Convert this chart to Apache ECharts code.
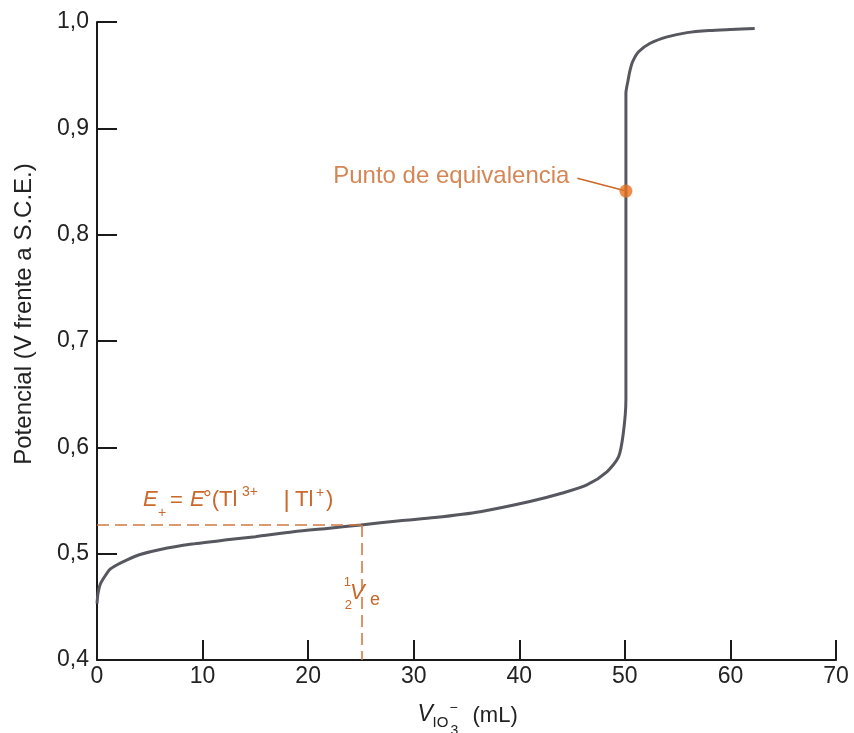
<!DOCTYPE html>
<html><head><meta charset="utf-8">
<script src="https://cdn.jsdelivr.net/npm/echarts@6/dist/echarts.min.js"></script>
<style>html,body{margin:0;padding:0;background:#fff}#c{width:854px;height:733px}</style>
</head><body><div id="c"></div>
<script>
// ---- data ----
const volumeML = [0, 0.1, 0.3, 0.7, 1.2, 2, 2.8, 4, 6, 9, 12.3, 15, 18.6, 22, 25, 28.7, 32, 36.3, 41, 44.1, 46.4, 48.3, 49.4, 49.85, 50.1, 50.1, 50.3, 50.5, 50.75, 51.3, 52.4, 54, 55.9, 58, 60, 62.3];
const potentialV = [0.453, 0.463, 0.471, 0.478, 0.485, 0.490, 0.494, 0.499, 0.504, 0.509, 0.513, 0.516, 0.5207, 0.524, 0.527, 0.531, 0.534, 0.5395, 0.549, 0.557, 0.5646, 0.577, 0.591, 0.613, 0.645, 0.933, 0.945, 0.955, 0.963, 0.972, 0.980, 0.986, 0.990, 0.992, 0.993, 0.994];
const equivalencePoint = [50.1, 0.841];
const leaderStart = [45.5, 0.853];
const halfVe = 25.1;
const ePlus = 0.527;
const xTicks = {min: 0, max: 70, step: 10};
const yTicks = {min: 0.4, max: 1.0, step: 0.1};
const yAxisTitle = 'Potencial (V frente a S.C.E.)';
const eqLabel = 'Punto de equivalencia';

const FONT = '"Liberation Sans", Arial, Helvetica, sans-serif';
const ORANGE = '#c9682a';
const DASH = '#d17a42';
const INK = '#1a1a1a';

const chart = echarts.init(document.getElementById('c'), null, {renderer: 'canvas'});
const option = {
  animation: false,
  backgroundColor: '#fff',
  grid: {left: 97, right: 18, top: 22, bottom: 73, containLabel: false, outerBoundsMode: 'none'},
  xAxis: {
    type: 'value', min: xTicks.min, max: xTicks.max, interval: xTicks.step,
    axisLine: {show: true, lineStyle: {color: INK, width: 2}},
    axisTick: {show: true, inside: true, length: 20, lineStyle: {color: INK, width: 2}},
    axisLabel: {fontSize: 23, color: '#222', margin: 5, fontFamily: FONT},
    splitLine: {show: false}
  },
  yAxis: {
    type: 'value', min: yTicks.min, max: yTicks.max, interval: yTicks.step,
    axisLine: {show: true, lineStyle: {color: INK, width: 2}},
    axisTick: {show: true, inside: true, length: 20, lineStyle: {color: INK, width: 2}},
    axisLabel: {fontSize: 23, color: '#222', margin: 8, fontFamily: FONT,
      formatter: v => v.toFixed(1).replace('.', ',')},
    splitLine: {show: false}
  },
  series: [
    {
      type: 'line', name: 'curve',
      data: volumeML.map((v, i) => [v, potentialV[i]]),
      symbol: 'none', smooth: 0.25,
      lineStyle: {color: '#56575f', width: 3},
      z: 3,
      markLine: {
        silent: true, symbol: 'none', animation: false,
        label: {show: false},
        lineStyle: {color: DASH, type: [12, 6], width: 1.6},
        data: [
          [{coord: [xTicks.min, ePlus]}, {coord: [halfVe, ePlus]}],
          [{coord: [halfVe, ePlus]}, {coord: [halfVe, yTicks.min]}]
        ]
      }
    },
    {
      type: 'scatter', name: 'eq',
      data: [equivalencePoint],
      symbolSize: 13, itemStyle: {color: '#e8701f'}, z: 5,
      label: {show: true, formatter: eqLabel, position: 'left', distance: 50, offset: [0, -15],
        fontSize: 24, color: ORANGE, fontFamily: FONT},
      markLine: {
        silent: true, symbol: 'none', animation: false, label: {show: false},
        lineStyle: {color: ORANGE, type: 'solid', width: 1.5},
        data: [[{coord: leaderStart}, {coord: equivalencePoint}]]
      }
    }
  ]
};
chart.setOption(option);

function t(text, x, y, size, opts) {
  opts = opts || {};
  const font = (opts.italic ? 'italic ' : '') + size + 'px ' + FONT;
  const el = {type: 'text', silent: true, z: 10, style: {
    text: text, x: x, y: y, font: font, fill: opts.color || ORANGE,
    align: opts.align || 'left', verticalAlign: 'middle',
    textAlign: opts.align || 'left', textVerticalAlign: 'middle'
  }};
  return el;
}

const pE = chart.convertToPixel({gridIndex: 0}, [xTicks.min, ePlus]);
const pH = chart.convertToPixel({gridIndex: 0}, [halfVe, yTicks.min]);
const pX = chart.convertToPixel({gridIndex: 0}, [(xTicks.min + xTicks.max) / 2, yTicks.min]);
const pTop = chart.convertToPixel({gridIndex: 0}, [xTicks.min, yTicks.max]);
const ax = pE[0], ay = pE[1];
const g = [
  // y-axis title
  {type: 'text', silent: true, rotation: Math.PI / 2, x: ax - 73, y: (pTop[1] + pX[1]) / 2 - 27,
    style: {text: yAxisTitle, x: 0, y: 0, font: '24px ' + FONT, fill: '#222',
      align: 'center', verticalAlign: 'middle', textAlign: 'center', textVerticalAlign: 'middle'}},
  // E+ = E°(Tl3+ | Tl+)
  t('E', ax + 46, ay - 25, 22, {italic: true}),
  t('+', ax + 61, ay - 12, 14),
  t('=', ax + 79.5, ay - 24, 22, {align: 'center'}),
  t('E', ax + 93, ay - 25, 22, {italic: true}),
  t('°(Tl', ax + 106, ay - 25, 22),
  t('3+', ax + 145, ay - 33, 14),
  t('|', ax + 189.5, ay - 24.5, 24, {align: 'center'}),
  t('Tl', ax + 198, ay - 25, 22),
  t('+', ax + 219, ay - 32, 14),
  t(')', ax + 229, ay - 25, 22),
  // 1/2 Ve
  t('1', pH[0] - 14.5, pH[1] - 78, 13, {align: 'center'}),
  t('2', pH[0] - 13.5, pH[1] - 55, 13, {align: 'center'}),
  t('V', pH[0] - 12, pH[1] - 67, 22, {italic: true}),
  t('e', pH[0] + 8, pH[1] - 60, 18),
  // x-axis title: V_{IO3^-} (mL)
  t('V', pX[0] - 49, pX[1] + 55, 23, {italic: true, color: '#222'}),
  t('IO', pX[0] - 34, pX[1] + 62.5, 15, {color: '#222'}),
  t('\u2212', pX[0] - 17, pX[1] + 48, 14, {color: '#222'}),
  t('3', pX[0] - 16, pX[1] + 71, 14, {color: '#222'}),
  t('(mL)', pX[0] + 6, pX[1] + 56, 22, {color: '#222'})
];
chart.setOption({graphic: g});
</script>
</body></html>
